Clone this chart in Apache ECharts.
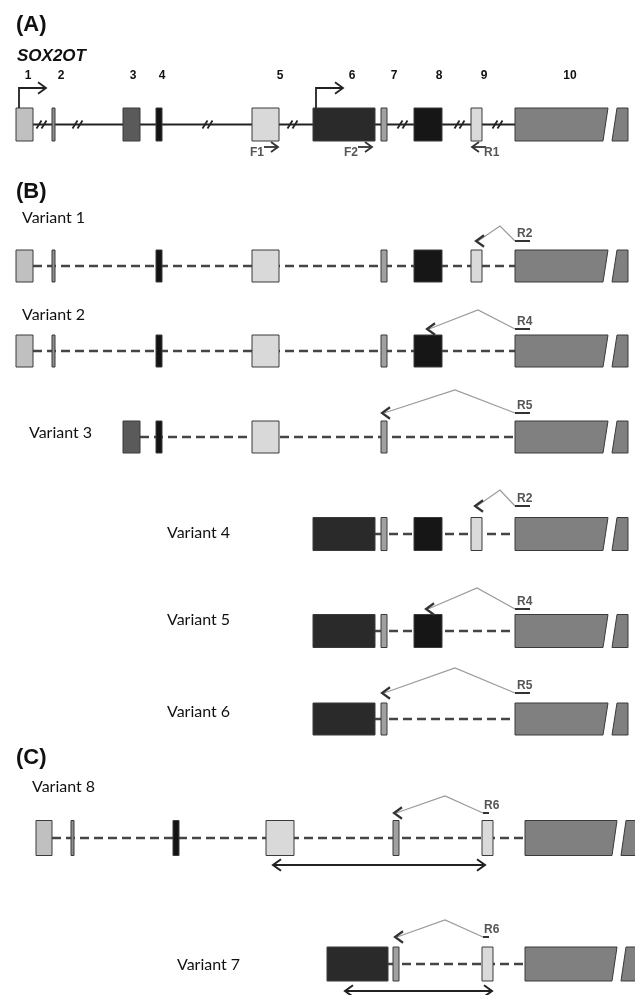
<!DOCTYPE html>
<html><head><meta charset="utf-8">
<script src="https://cdn.jsdelivr.net/npm/echarts@6/dist/echarts.min.js"></script>
<style>html,body{margin:0;padding:0;background:#fff}#c{width:635px;height:995px}</style>
</head><body><div id="c"></div>
<script>
// ---- gene structure data (axis units) ----
const exonNames   = ['1','2','3','4','5','6','7','8','9','10'];
const exonStartAB = [16, 52, 123, 156, 252, 313, 381, 414, 471, 515];
const exonEndAB   = [33, 55, 140, 162, 279, 375, 387, 442, 482, 608];
const exonStartC  = [36, 71, null, 173, 266, 327, 393, null, 482, 525];
const exonEndC    = [52, 74, null, 179, 294, 388, 399, null, 493, 617];

const rowNames  = ['SOX2OT','Variant 1','Variant 2','Variant 3','Variant 4','Variant 5','Variant 6','Variant 8','Variant 7'];
const rowPanel  = ['A','B','B','B','B','B','B','C','C'];
const rowCenter = [124.5, 266, 351, 437, 534, 631, 719, 838, 964];
const rowExons  = [[1,2,3,4,5,6,7,8,9,10],[1,2,4,5,7,8,9,10],[1,2,4,5,7,8,10],[3,4,5,7,10],
                   [6,7,8,9,10],[6,7,8,10],[6,7,10],[1,2,4,5,7,9,10],[6,7,9,10]];

const panelLetters = ['(A)','(B)','(C)'];

// intron breaks in panel A
const breakX = [42, 78, 208, 293, 403, 460, 498];
// transcription start sites (exon numbers)
const tssExons = [1, 6];

// panel A primers
const primerA    = ['F1','F2','R1'];
const primerATip = [278, 372, 472];
const primerADir = [1, 1, -1];

// reverse primers spanning junctions (rows 1..8)
const revPrimer  = ['R2','R4','R5','R2','R4','R5','R6','R6'];
const primerBaseX = [515, 515, 515, 515, 515, 515, 483, 483];
const primerBaseY = [241, 329, 413, 506, 609, 693, 813, 937];
const junctionPeakX = [500, 478, 455, 500, 477, 455, 445, 445];
const junctionPeakY = [226, 310, 390, 490, 588, 668, 796, 920];
const junctionTipX  = [476, 427, 382, 475, 426, 382, 394, 395];

// RT-PCR product spans in panel C
const spanStart = [273, 345];
const spanEnd   = [485, 492];
const spanY     = [865, 991];

// ---- layout & styles ----
const rowHalf   = [16.5, 16, 16, 16, 16.5, 16.5, 16, 17.5, 17];
const rowLabelX = [17, 22, 22, 29, 167, 167, 167, 32, 177];
const rowLabelY = [56, 218, 315, 433, 533, 620, 712, 787, 965];
const exonLabelX = [28, 61, 133, 162, 280, 352, 394, 439, 484, 570];
const exonLabelY = 76;
const panelLetterY = [25, 192, 758];
const exonFill = ['#c0c0c0','#8e8e8e','#5a5a5a','#131313','#d9d9d9','#2a2a2a','#a0a0a0','#161616','#dadada','#808080'];
const LABEL_FONT = 'Lato, "Liberation Sans", sans-serif';
const SANS = '"Liberation Sans", Arial, sans-serif';

const chart = echarts.init(document.getElementById('c'), null, {renderer:'canvas'});

function starts(r){ return rowPanel[r]==='C' ? exonStartC : exonStartAB; }
function ends(r){ return rowPanel[r]==='C' ? exonEndC : exonEndAB; }

function chevron(p, tip, dir, stroke, lw, arm){
  const t = p(tip[0], tip[1]);
  const a = arm || 7;
  return {type:'polyline', shape:{points:[[t[0]-dir*a,t[1]-a*0.72],t,[t[0]-dir*a,t[1]+a*0.72]]},
          style:{stroke:stroke, fill:null, lineWidth:lw}};
}

const exonData = [];
rowExons.forEach((ex,r)=>ex.forEach(e=>exonData.push([r, e-1])));

const series = [
  // introns
  {type:'custom', z:1, data: rowNames.map((n,i)=>[i,0]),
   renderItem(params, api){
     const r = api.value(0);
     const ex = rowExons[r];
     const x1 = ends(r)[ex[0]-1], x2 = starts(r)[ex[ex.length-1]-1];
     const a = api.coord([x1, rowCenter[r]]), b = api.coord([x2, rowCenter[r]]);
     const solid = r===0;
     return {type:'line', shape:{x1:a[0],y1:a[1],x2:b[0],y2:b[1]},
       style:{stroke: solid?'#222':'#454545', lineWidth: solid?2:2.4, lineDash: solid?null:[9,5]}};
   }},
  // breaks //
  {type:'custom', z:2, data: breakX.map(x=>[x,rowCenter[0]]),
   renderItem(params, api){
     const p = api.coord([api.value(0), api.value(1)]);
     const mk = dx => ({type:'line', shape:{x1:p[0]+dx-2.5,y1:p[1]+4,x2:p[0]+dx+2.5,y2:p[1]-4},
                         style:{stroke:'#222', lineWidth:1.8}});
     return {type:'group', children:[mk(-3), mk(2)]};
   }},
  // exons
  {type:'custom', z:3, data: exonData,
   renderItem(params, api){
     const r = api.value(0), e = api.value(1);
     const xs = starts(r)[e], xe = ends(r)[e];
     const top = rowCenter[r]-rowHalf[r], bot = rowCenter[r]+rowHalf[r];
     const p = (x,y)=>api.coord([x,y]);
     const style = {fill: exonFill[e], stroke:'#3a3a3a', lineWidth:1};
     if (e===9){
       return {type:'group', children:[
         {type:'polygon', shape:{points:[p(xs,top),p(xe,top),p(xe-5,bot),p(xs,bot)]}, style},
         {type:'polygon', shape:{points:[p(xe+9,top),p(xe+20,top),p(xe+20,bot),p(xe+4,bot)]}, style}
       ]};
     }
     const a = p(xs,top), b = p(xe,bot);
     return {type:'rect', shape:{x:a[0], y:a[1], width:b[0]-a[0], height:b[1]-a[1]}, style};
   }},
  // exon numbers (panel A)
  {type:'custom', z:4, data: exonNames.map((n,i)=>[i,0]),
   renderItem(params, api){
     const e = api.value(0);
     const p = api.coord([exonLabelX[e], exonLabelY]);
     return {type:'text', x:p[0], y:p[1], style:{text:exonNames[e], fill:'#111',
       font:'bold 12px '+SANS, align:'center', verticalAlign:'middle'}};
   }},
  // TSS arrows
  {type:'custom', z:4, data: tssExons.map(e=>[e-1,0]),
   renderItem(params, api){
     const e = api.value(0);
     const x = exonStartAB[e]+3, top = rowCenter[0]-rowHalf[0];
     const p = (a,b)=>api.coord([a,b]);
     const tip = [x+27, top-20];
     return {type:'group', children:[
       {type:'polyline', shape:{points:[p(x,top),p(x,top-20),p(tip[0],tip[1])]}, style:{stroke:'#222',fill:null,lineWidth:1.8}},
       chevron(p, tip, 1, '#222', 1.8, 8)
     ]};
   }},
  // panel A primers
  {type:'custom', z:4, data: primerA.map((n,i)=>[i,0]),
   renderItem(params, api){
     const i = api.value(0);
     const dir = primerADir[i], tipX = primerATip[i], y = 147;
     const p = (a,b)=>api.coord([a,b]);
     const tail = p(tipX - dir*14, y);
     const t = p(tipX, y);
     const lbl = dir>0 ? p(tipX-14, 153) : p(tipX+12, 153);
     return {type:'group', children:[
       {type:'line', shape:{x1:tail[0],y1:tail[1],x2:t[0],y2:t[1]}, style:{stroke:'#333',lineWidth:1.8}},
       chevron(p, [tipX,y], dir, '#333', 1.8),
       {type:'text', x:lbl[0], y:lbl[1], style:{text:primerA[i], fill:'#555', font:'bold 12px '+SANS,
         align: dir>0?'right':'left', verticalAlign:'middle'}}
     ]};
   }},
  // reverse primers across junctions
  {type:'custom', z:5, data: revPrimer.map((n,i)=>[i,0]),
   renderItem(params, api){
     const i = api.value(0);
     const p = (a,b)=>api.coord([a,b]);
     const bx = primerBaseX[i], by = primerBaseY[i];
     const isC = rowPanel[i+1]==='C';
     const ulEnd = isC ? bx+6 : bx+15;
     const u1 = p(bx,by), u2 = p(ulEnd,by);
     const lbl = p(isC? bx+1 : bx+2, by-1.5);
     return {type:'group', children:[
       {type:'polyline', shape:{points:[p(bx,by), p(junctionPeakX[i],junctionPeakY[i]), p(junctionTipX[i]+2,by)]},
        style:{stroke:'#9a9a9a', fill:null, lineWidth:1.2}},
       chevron(p, [junctionTipX[i],by], -1, '#333', 2.2, 8),
       {type:'line', shape:{x1:u1[0],y1:u1[1],x2:u2[0],y2:u2[1]}, style:{stroke:'#333',lineWidth:2}},
       {type:'text', x:lbl[0], y:lbl[1], style:{text:revPrimer[i], fill:'#555', font:'bold 12px '+SANS,
         align:'left', verticalAlign:'bottom'}}
     ]};
   }},
  // RT-PCR spans
  {type:'custom', z:5, data: spanY.map((y,i)=>[i,0]),
   renderItem(params, api){
     const i = api.value(0);
     const p = (a,b)=>api.coord([a,b]);
     const a = p(spanStart[i], spanY[i]), b = p(spanEnd[i], spanY[i]);
     return {type:'group', children:[
       {type:'line', shape:{x1:a[0],y1:a[1],x2:b[0],y2:b[1]}, style:{stroke:'#222',lineWidth:2}},
       chevron(p, [spanStart[i],spanY[i]], -1, '#222', 2, 8),
       chevron(p, [spanEnd[i],spanY[i]], 1, '#222', 2, 8)
     ]};
   }},
  // row labels
  {type:'custom', z:5, data: rowNames.map((n,i)=>[i,0]),
   renderItem(params, api){
     const r = api.value(0);
     const p = api.coord([rowLabelX[r], rowLabelY[r]]);
     if (r===0){
       return {type:'text', x:p[0], y:p[1], style:{text:rowNames[0], fill:'#111',
         font:'italic bold 17px '+SANS, align:'left', verticalAlign:'middle'}};
     }
     return {type:'text', x:p[0], y:p[1], style:{text:rowNames[r], fill:'#111',
       font:'16px '+LABEL_FONT, align:'left', verticalAlign:'middle'}};
   }},
  // panel letters
  {type:'custom', z:5, data: panelLetters.map((n,i)=>[i,0]),
   renderItem(params, api){
     const i = api.value(0);
     const p = api.coord([16, panelLetterY[i]]);
     return {type:'text', x:p[0], y:p[1], style:{text:panelLetters[i], fill:'#111',
       font:'bold 22px '+SANS, align:'left', verticalAlign:'middle'}};
   }}
];

chart.setOption({
  animation:false,
  backgroundColor:'#fff',
  grid:{left:0,right:0,top:0,bottom:0},
  xAxis:{type:'value', min:0, max:635, show:false},
  yAxis:{type:'value', min:0, max:995, inverse:true, show:false},
  series: series.map(s=>Object.assign({clip:false, silent:true}, s))
});
</script>
</body></html>
